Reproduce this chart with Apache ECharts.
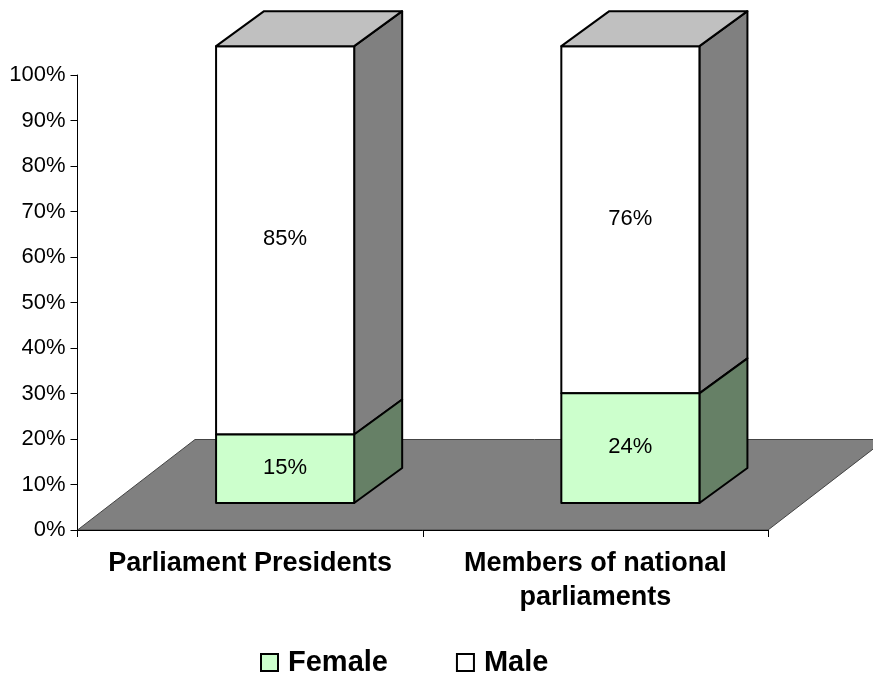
<!DOCTYPE html>
<html>
<head>
<meta charset="utf-8">
<script src="https://cdn.jsdelivr.net/npm/echarts@6/dist/echarts.min.js"></script>
<style>html,body{margin:0;padding:0;background:#fff}#c{width:873px;height:676px}</style>
</head>
<body>
<div id="c"></div>
<script>
var categories = ['Parliament Presidents', 'Members of national\nparliaments'];
var female = [15, 24];
var male = [85, 76];
var FONT = '"Liberation Sans", Arial, sans-serif';
var chart = echarts.init(document.getElementById('c'), null, {renderer: 'canvas'});

var FRONT_X = 35, FRONT_Y = -27, DX = 48, DY = -35, BAR = 0.4, Y_SCALE = 1.004;
var LINE = '#000';

function poly(points, fill, w) {
  return {type: 'polygon', shape: {points: points},
    style: {fill: fill, stroke: LINE, lineWidth: w || 2, lineJoin: 'round'}};
}
function label(x, y, s) {
  return {type: 'text', style: {x: x, y: y, text: s, fill: '#000', font: '22px ' + FONT, align: 'center', verticalAlign: 'middle'}, z2: 10};
}
function segment(front, side, withTop, labelShift) {
  return function (params, api) {
    var i = api.value(0), lo = api.value(1), hi = api.value(2);
    var w = api.size([1, 0])[0] * BAR;
    var base = api.coord([i, 0]), a = api.coord([i, lo]), b = api.coord([i, hi]);
    var x0 = a[0] + FRONT_X - w / 2, x1 = x0 + w;
    var y0 = base[1] + FRONT_Y + (a[1] - base[1]) * Y_SCALE;
    var y1 = base[1] + FRONT_Y + (b[1] - base[1]) * Y_SCALE;
    var kids = [
      poly([[x1, y0], [x1 + DX, y0 + DY], [x1 + DX, y1 + DY], [x1, y1]], side),
      poly([[x0, y0], [x1, y0], [x1, y1], [x0, y1]], front)
    ];
    if (withTop) kids.push(poly([[x0, y1], [x1, y1], [x1 + DX, y1 + DY], [x0 + DX, y1 + DY]], '#C0C0C0'));
    kids.push(label((x0 + x1) / 2, (y0 + y1) / 2 + labelShift, api.value(3) + '%'));
    return {type: 'group', children: kids};
  };
}
function segData(lows, vals) {
  return vals.map(function (v, i) { return [i, lows ? lows[i] : 0, (lows ? lows[i] : 0) + v, v]; });
}

chart.setOption({
  animation: false,
  backgroundColor: '#fff',
  grid: {left: 77.5, right: 105, top: 75, bottom: 146},
  xAxis: {
    type: 'category', data: categories,
    axisLine: {show: true, onZero: false, lineStyle: {color: '#000', width: 1}},
    axisTick: {show: true, length: 7, alignWithLabel: false, lineStyle: {color: '#000'}},
    axisLabel: {fontFamily: FONT, fontWeight: 'bold', fontSize: 27, color: '#000', margin: 17, lineHeight: 34, interval: 0},
    z: 5
  },
  yAxis: {
    type: 'value', min: 0, max: 100, interval: 10,
    axisLine: {show: true, lineStyle: {color: '#000', width: 1}},
    axisTick: {show: true, length: 7, lineStyle: {color: '#000'}},
    axisLabel: {formatter: '{value}%', fontFamily: FONT, fontSize: 22, color: '#000', margin: 12},
    splitLine: {show: false},
    z: 5
  },
  legend: {
    data: ['Female', 'Male'], left: 260, top: 648, padding: 0, itemWidth: 17, itemHeight: 17, itemGap: 68,
    selectedMode: false, icon: 'rect',
    textStyle: {fontFamily: FONT, fontWeight: 'bold', fontSize: 29, color: '#000', padding: [0, 0, 0, 5]}
  },
  series: [
    {
      name: 'floor', type: 'custom', silent: true, z: 1, clip: false, data: [[0]],
      renderItem: function (params, api) {
        var g = params.coordSys;
        var bx = g.x, by = g.y + g.height, rx = g.x + g.width;
        var dx = 117.5, dy = -90.5;
        return {type: 'polygon', shape: {points: [[bx, by], [rx, by], [rx + dx, by + dy], [bx + dx, by + dy]]},
          style: {fill: '#808080', stroke: '#444', lineWidth: 1}};
      }
    },
    {
      name: 'Male', type: 'custom', z: 2, clip: false,
      itemStyle: {color: '#fff', borderColor: '#000', borderWidth: 1.5},
      data: segData(female, male), encode: {x: 0, y: 2},
      renderItem: segment('#fff', '#808080', true, -1)
    },
    {
      name: 'Female', type: 'custom', z: 3, clip: false,
      itemStyle: {color: '#CCFFCC', borderColor: '#000', borderWidth: 1.5},
      data: segData(null, female), encode: {x: 0, y: 2},
      renderItem: segment('#CCFFCC', '#668066', false, -1)
    }
  ]
});
</script>
</body>
</html>
